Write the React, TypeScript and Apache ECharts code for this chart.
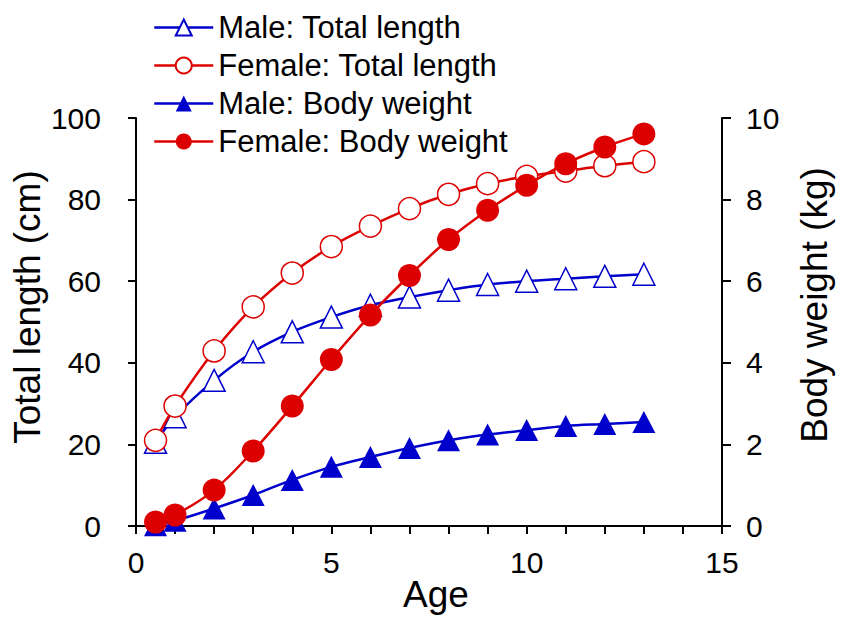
import React, { useEffect, useRef } from "react";
import * as echarts from "echarts";

const ages = [0.5, 1, 2, 3, 4, 5, 6, 7, 8, 9, 10, 11, 12, 13];
const maleTotalLength = [20.5, 26.8, 35.7, 42.7, 47.6, 51.2, 54.1, 56.1, 57.8, 59.2, 60.0, 60.6, 61.2, 61.7];
const femaleTotalLength = [21.0, 29.4, 42.9, 53.7, 62.0, 68.5, 73.5, 77.8, 81.3, 83.9, 85.7, 87.0, 88.3, 89.3];
const maleBodyWeight = [0.02, 0.13, 0.43, 0.76, 1.13, 1.45, 1.69, 1.91, 2.10, 2.24, 2.35, 2.45, 2.50, 2.55];
const femaleBodyWeight = [0.1, 0.27, 0.88, 1.84, 2.94, 4.08, 5.17, 6.14, 7.02, 7.74, 8.35, 8.88, 9.29, 9.61];

const seriesNames = [
  "Male: Total length",
  "Female: Total length",
  "Male: Body weight",
  "Female: Body weight",
];
const xAxisTitle = "Age";
const leftAxisTitle = "Total length (cm)";
const rightAxisTitle = "Body weight (kg)";

const BLUE = "#0000cc";
const RED = "#dd0000";
const FONT = "'Liberation Sans', Arial, sans-serif";

const pair = (xs: number[], ys: number[]) => xs.map((x, i) => [x, ys[i]]);

export default function App() {
  const ref = useRef<HTMLDivElement>(null);
  useEffect(() => {
    if (!ref.current) return;
    const chart = echarts.init(ref.current, null, { renderer: "svg" });
    const axisLine = { show: true, lineStyle: { color: "#000", width: 2 } };
    const tickStyle = { color: "#000", width: 2 };
    const label = { color: "#000", fontSize: 30, fontFamily: FONT };
    chart.setOption({
      animation: false,
      backgroundColor: "#fff",
      grid: { left: 136, right: 119, top: 118, bottom: 93, containLabel: false },
      legend: {
        orient: "vertical",
        left: 148,
        top: 7,
        itemWidth: 59,
        itemHeight: 20,
        itemGap: 7,
        lineStyle: { width: 2.5 },
        textStyle: { fontSize: 31, fontFamily: FONT, color: "#000", lineHeight: 31 },
        data: seriesNames,
      },
      xAxis: {
        type: "value",
        min: 0,
        max: 15,
        interval: 1,
        axisLine,
        axisTick: { show: true, inside: false, length: 8, lineStyle: tickStyle },
        splitLine: { show: false },
        axisLabel: {
          ...label,
          margin: 21,
          formatter: (v: number) => (v % 5 === 0 ? String(v) : ""),
        },
      },
      yAxis: [
        {
          type: "value",
          min: 0,
          max: 100,
          interval: 20,
          position: "left",
          axisLine,
          axisTick: { show: true, inside: false, length: 8, lineStyle: tickStyle },
          splitLine: { show: false },
          axisLabel: { ...label, margin: 35 },
        },
        {
          type: "value",
          min: 0,
          max: 10,
          interval: 2,
          position: "right",
          axisLine,
          axisTick: { show: true, inside: false, length: 9, lineStyle: tickStyle },
          splitLine: { show: false },
          axisLabel: { ...label, margin: 24 },
        },
      ],
      graphic: [
        {
          type: "text",
          x: 436,
          y: 594,
          style: { text: xAxisTitle, fontSize: 37, fontFamily: FONT, fill: "#000", textAlign: "center", textVerticalAlign: "middle" },
        },
        {
          type: "text",
          x: 27,
          y: 307,
          rotation: Math.PI / 2,
          style: { text: leftAxisTitle, fontSize: 37, fontFamily: FONT, fill: "#000", textAlign: "center", textVerticalAlign: "middle" },
        },
        {
          type: "text",
          x: 814,
          y: 305,
          rotation: Math.PI / 2,
          style: { text: rightAxisTitle, fontSize: 37, fontFamily: FONT, fill: "#000", textAlign: "center", textVerticalAlign: "middle" },
        },
      ],
      series: [
        {
          name: seriesNames[0],
          type: "line",
          yAxisIndex: 0,
          data: pair(ages, maleTotalLength),
          smooth: 0.35,
          symbol: "triangle",
          symbolSize: [22, 22],
          lineStyle: { color: BLUE, width: 2.5 },
          itemStyle: { color: "#fff", borderColor: BLUE, borderWidth: 1.5 },
          z: 2,
        },
        {
          name: seriesNames[1],
          type: "line",
          yAxisIndex: 0,
          data: pair(ages, femaleTotalLength),
          smooth: 0.35,
          symbol: "circle",
          symbolSize: 22,
          lineStyle: { color: RED, width: 2.5 },
          itemStyle: { color: "#fff", borderColor: RED, borderWidth: 1.5 },
          z: 3,
        },
        {
          name: seriesNames[2],
          type: "line",
          yAxisIndex: 1,
          data: pair(ages, maleBodyWeight),
          smooth: 0.35,
          symbol: "triangle",
          symbolSize: [23, 22],
          lineStyle: { color: BLUE, width: 2.5 },
          itemStyle: { color: BLUE, borderWidth: 0 },
          z: 4,
        },
        {
          name: seriesNames[3],
          type: "line",
          yAxisIndex: 1,
          data: pair(ages, femaleBodyWeight),
          smooth: 0.35,
          symbol: "circle",
          symbolSize: 23,
          lineStyle: { color: RED, width: 2.5 },
          itemStyle: { color: RED, borderWidth: 0 },
          z: 5,
        },
      ],
    });
    return () => chart.dispose();
  }, []);
  return (
    <div
      ref={ref}
      style={{ position: "absolute", left: 0, top: 0, width: 841, height: 619 }}
    />
  );
}
